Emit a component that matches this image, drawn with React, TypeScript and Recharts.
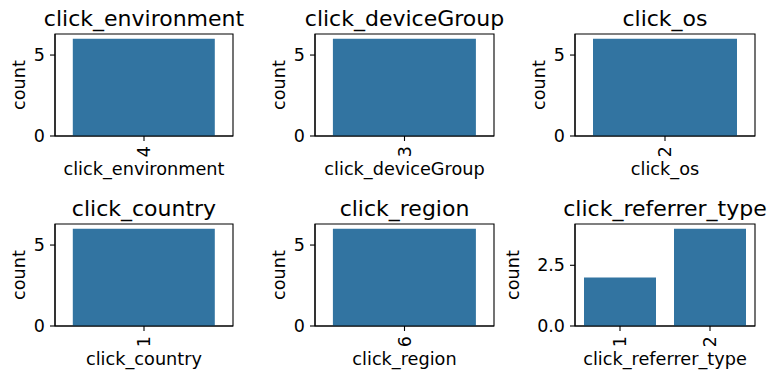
import React from 'react';
import { BarChart, Bar, XAxis, YAxis, ReferenceArea, Label } from 'recharts';

const environmentCats = ['4'];
const environmentCounts = [6];
const deviceGroupCats = ['3'];
const deviceGroupCounts = [6];
const osCats = ['2'];
const osCounts = [6];
const countryCats = ['1'];
const countryCounts = [6];
const regionCats = ['6'];
const regionCounts = [6];
const referrerCats = ['1', '2'];
const referrerCounts = [2, 4];

const intTicks = [0, 5];
const decTicks = [0, 2.5];

const FONT = '"DejaVu Sans", sans-serif';
const BAR = '#3274a1';
const AXW = 80;
const RM = 30;

type PanelProps = {
  title: string;
  xLabel: string;
  cats: string[];
  counts: number[];
  ticks: number[];
  decimals: number;
  plotLeft: number;
  plotRight: number;
  top: number;
  yLabelGap: number;
};

const XTick = (props: any) => {
  const { x, y, payload } = props;
  return (
    <text
      x={x}
      y={y}
      transform={`rotate(-90, ${x}, ${y})`}
      textAnchor="end"
      dominantBaseline="central"
      fontFamily={FONT}
      fontSize={17.5}
      fill="#000"
    >
      {payload.value}
    </text>
  );
};

function Panel(p: PanelProps) {
  const data = p.cats.map((c, i) => ({ cat: c, count: p.counts[i] }));
  const ymax = Math.max(...p.counts) * 1.05;
  const left = p.plotLeft - AXW;
  const width = p.plotRight - left + RM;
  return (
    <div style={{ position: 'absolute', left, top: p.top }}>
      <BarChart
        width={width}
        height={190}
        data={data}
        margin={{ top: 34, right: RM, bottom: 0, left: 0 }}
        barCategoryGap="10%"
      >
        <XAxis
          dataKey="cat"
          height={54}
          tickSize={5}
          tickMargin={5}
          tick={<XTick />}
          axisLine={{ stroke: '#000', strokeWidth: 1.1 }}
          tickLine={{ stroke: '#000', strokeWidth: 1.1 }}
          interval={0}
        />
        <YAxis
          type="number"
          width={AXW}
          domain={[0, ymax]}
          ticks={p.ticks}
          tickSize={5}
          tickMargin={5}
          tickFormatter={(v: number) => v.toFixed(p.decimals)}
          tick={{ fontFamily: FONT, fontSize: 17.5, fill: '#000' }}
          axisLine={{ stroke: '#000', strokeWidth: 1.1 }}
          tickLine={{ stroke: '#000', strokeWidth: 1.1 }}
          allowDataOverflow
        />
        <Bar dataKey="count" fill={BAR} isAnimationActive={false} />
        <ReferenceArea
          y1={0}
          y2={ymax}
          fill="none"
          fillOpacity={0}
          stroke="#000"
          strokeWidth={1.1}
          ifOverflow="extendDomain"
        >
          <Label
            content={(lp: any) => {
              const vb = lp.viewBox;
              const cx = vb.x + vb.width / 2;
              const ly = vb.y + vb.height / 2;
              const lx = vb.x - p.yLabelGap;
              return (
                <g>
                  <text x={cx} y={vb.y - 8} textAnchor="middle" fontFamily={FONT} fontSize={22} fill="#000">
                    {p.title}
                  </text>
                  <text x={cx} y={vb.y + vb.height + 39} textAnchor="middle" fontFamily={FONT} fontSize={17.7} fill="#000">
                    {p.xLabel}
                  </text>
                  <text
                    x={lx}
                    y={ly}
                    transform={`rotate(-90, ${lx}, ${ly})`}
                    textAnchor="middle"
                    fontFamily={FONT}
                    fontSize={17.7}
                    fill="#000"
                  >
                    count
                  </text>
                </g>
              );
            }}
          />
        </ReferenceArea>
      </BarChart>
    </div>
  );
}

export default function App() {
  return (
    <div
      style={{
        position: 'absolute',
        left: 0,
        top: 0,
        width: 774,
        height: 381,
        background: '#fff',
        overflow: 'hidden',
      }}
    >
      <Panel title="click_environment" xLabel="click_environment" cats={environmentCats} counts={environmentCounts} ticks={intTicks} decimals={0} plotLeft={55} plotRight={233} top={0} yLabelGap={30} />
      <Panel title="click_deviceGroup" xLabel="click_deviceGroup" cats={deviceGroupCats} counts={deviceGroupCounts} ticks={intTicks} decimals={0} plotLeft={315} plotRight={494} top={0} yLabelGap={30} />
      <Panel title="click_os" xLabel="click_os" cats={osCats} counts={osCounts} ticks={intTicks} decimals={0} plotLeft={575} plotRight={755} top={0} yLabelGap={30} />
      <Panel title="click_country" xLabel="click_country" cats={countryCats} counts={countryCounts} ticks={intTicks} decimals={0} plotLeft={55} plotRight={233} top={190} yLabelGap={30} />
      <Panel title="click_region" xLabel="click_region" cats={regionCats} counts={regionCounts} ticks={intTicks} decimals={0} plotLeft={315} plotRight={494} top={190} yLabelGap={30} />
      <Panel title="click_referrer_type" xLabel="click_referrer_type" cats={referrerCats} counts={referrerCounts} ticks={decTicks} decimals={1} plotLeft={575} plotRight={755} top={190} yLabelGap={56} />
    </div>
  );
}
